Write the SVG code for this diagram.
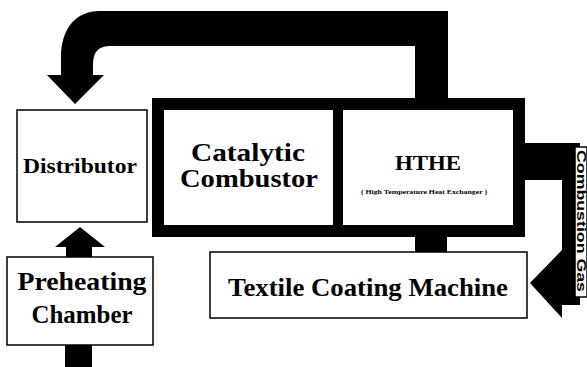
<svg xmlns="http://www.w3.org/2000/svg" width="587" height="367" viewBox="0 0 587 367">
<style>
.box{fill:#fff;stroke:#000;stroke-width:1.5}
.frame{fill:none;stroke:#000;stroke-width:12}
.conn{fill:#000;stroke:none}
.t{font-family:"Liberation Serif","Times New Roman",serif;font-weight:bold;fill:#000;text-anchor:middle}
.s{font-family:"Liberation Sans",Arial,sans-serif;font-weight:bold;fill:#000;text-anchor:middle}
</style>
<rect width="587" height="367" fill="#fff"/>
<g id="connectors">
<path class="conn" d="M448,98 V11 H100 C76,11 61,28 61,58 V75 H47 L75,104 L104,75 H93 V64 Q93,46 110,46 H415 V98 Z"/>
<path class="conn" d="M80,227 L55,247 H66 V257 H92 V247 H105 Z"/>
<rect class="conn" x="65" y="345" width="27" height="22"/>
<rect class="conn" x="415" y="237" width="32" height="15"/>
<path class="conn" d="M525,143 H580 V305 H562 V318 L530,283 L562,250 V180 H525 Z"/>
</g>
<g id="distributor">
<rect class="box" x="17" y="110" width="130" height="112"/>
<text class="t" x="80" y="173" font-size="20" textLength="114" lengthAdjust="spacingAndGlyphs">Distributor</text>
</g>
<g id="combustor-frame">
<rect class="frame" x="158" y="104" width="361" height="127"/>
<rect class="conn" x="333" y="110" width="10" height="115"/>
</g>
<g id="catalytic-combustor">
<text class="t" x="248" y="161" font-size="25" textLength="114" lengthAdjust="spacingAndGlyphs">Catalytic</text>
<text class="t" x="249" y="187" font-size="25" textLength="138" lengthAdjust="spacingAndGlyphs">Combustor</text>
</g>
<g id="hthe">
<text class="t" x="428" y="170" font-size="22" textLength="66" lengthAdjust="spacingAndGlyphs">HTHE</text>
<text class="t" x="424" y="194" font-size="7" textLength="126" lengthAdjust="spacingAndGlyphs">( High Temperature Heat Exchanger )</text>
</g>
<g id="textile-coating-machine">
<rect class="box" x="210" y="252" width="317" height="66"/>
<text class="t" x="368" y="296" font-size="25" textLength="280" lengthAdjust="spacingAndGlyphs">Textile Coating Machine</text>
</g>
<g id="preheating-chamber">
<rect class="box" x="7" y="257" width="146" height="88"/>
<text class="t" x="82" y="290" font-size="25" textLength="129" lengthAdjust="spacingAndGlyphs">Preheating</text>
<text class="t" x="82" y="323" font-size="25" textLength="101" lengthAdjust="spacingAndGlyphs">Chamber</text>
</g>
<g id="combustion-gas-label">
<rect x="575" y="147" width="12" height="150" fill="#fff" stroke="#000" stroke-width="1.5"/>
<text class="s" transform="translate(577,221) rotate(90)" font-size="12" textLength="142" lengthAdjust="spacingAndGlyphs">Combustion Gas</text>
</g>
</svg>
